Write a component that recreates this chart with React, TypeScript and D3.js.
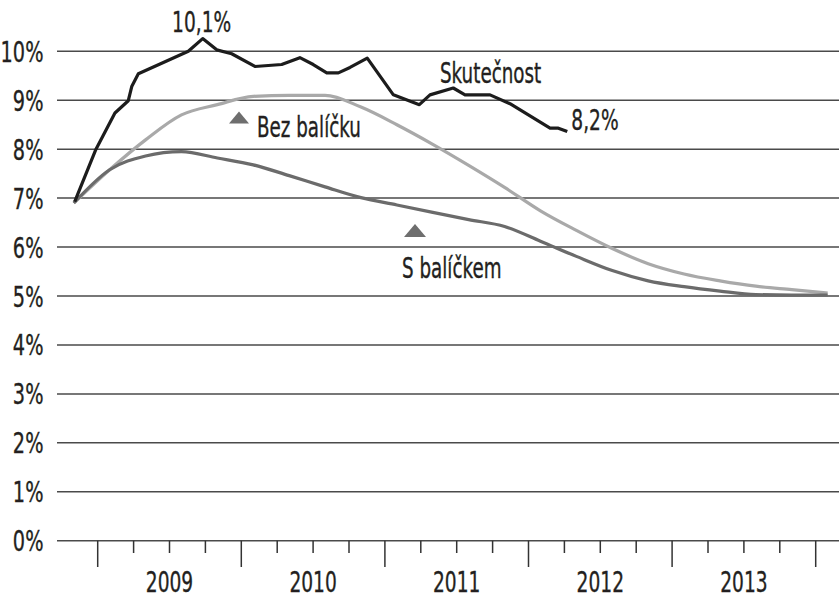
import React from "react";
import * as d3 from "d3";

// ---- data ----
const yTickValues = [0, 1, 2, 3, 4, 5, 6, 7, 8, 9, 10];
const yearLabels = ["2009", "2010", "2011", "2012", "2013"];
const quarters = [
  "2008Q4", "2009Q1", "2009Q2", "2009Q3", "2009Q4", "2010Q1", "2010Q2", "2010Q3",
  "2010Q4", "2011Q1", "2011Q2", "2011Q3", "2011Q4", "2012Q1", "2012Q2", "2012Q3",
  "2012Q4", "2013Q1", "2013Q2", "2013Q3", "2013Q4", "2014Q1",
];
const bezBalicku = [
  6.9, 7.58, 8.19, 8.7, 8.91, 9.08, 9.1, 9.1, 8.86, 8.5, 8.1, 7.67,
  7.22, 6.74, 6.34, 5.97, 5.66, 5.45, 5.31, 5.2, 5.13, 5.06,
];
const sBalickem = [
  6.9, 7.58, 7.86, 7.95, 7.82, 7.68, 7.46, 7.23, 7.01, 6.86, 6.71, 6.56,
  6.42, 6.12, 5.81, 5.52, 5.31, 5.19, 5.1, 5.03, 5.02, 5.02,
];
const actualDates = [
  2008.84, 2008.988, 2009.12, 2009.213, 2009.237, 2009.283, 2009.434, 2009.631,
  2009.731, 2009.829, 2009.933, 2010.095, 2010.281, 2010.408, 2010.501, 2010.595,
  2010.676, 2010.757, 2010.877, 2011.059, 2011.24, 2011.314, 2011.476, 2011.558,
  2011.732, 2011.871, 2012.15, 2012.208, 2012.27,
];
const actualValues = [
  6.93, 8.0, 8.74, 8.99, 9.28, 9.54, 9.74, 10.0, 10.26, 10.03, 9.95, 9.69,
  9.73, 9.87, 9.73, 9.56, 9.56, 9.67, 9.86, 9.11, 8.91, 9.11, 9.25, 9.11,
  9.11, 8.93, 8.43, 8.43, 8.36,
];
const peakLabel = "10,1%";
const lastLabel = "8,2%";
const seriesNames = ["Skutečnost", "Bez balíčku", "S balíčkem"];

// ---- layout ----
const W = 839;
const H = 598;
const FONT = "'Liberation Sans Narrow','DejaVu Sans Condensed','Liberation Sans',sans-serif";
const SX = 0.74;
const TXT = "#231f20";

const quarterToYear = (q: string) => {
  const y = +q.slice(0, 4);
  const n = +q.slice(5);
  return y + (3 * (n - 1) + 1) / 12;
};

function CText({ x, y, size, anchor = "start", children, weight = 400 }: any) {
  return (
    <text
      transform={`translate(${x},${y}) scale(${SX},1)`}
      fontFamily={FONT}
      fontSize={size}
      fontWeight={weight}
      textAnchor={anchor}
      fill={TXT}
      stroke={TXT}
      strokeWidth={0.35}
    >
      {children}
    </text>
  );
}

export default function App() {
  const x = d3.scaleLinear().domain([2009, 2014]).range([97.7, 815.7]);
  const y = d3.scaleLinear().domain([0, 10]).range([540.7, 51.3]);
  const gridX0 = 57;
  const gridX1 = W;

  const qYears = quarters.map(quarterToYear);
  const projLine = d3
    .line<number>()
    .x((_, i) => x(qYears[i]))
    .y((d) => y(d))
    .curve(d3.curveMonotoneX);
  const actualLine = d3
    .line<number>()
    .x((_, i) => x(actualDates[i]))
    .y((d) => y(d));

  const ticks = d3.range(0, 21).map((i) => 2009 + i * 0.25);

  const tri = (cx: number, cy: number, w: number, h: number) =>
    `M${cx - w / 2},${cy + h / 2}L${cx},${cy - h / 2}L${cx + w / 2},${cy + h / 2}Z`;

  const lastI = actualValues.length - 1;
  const peakI = actualValues.indexOf(d3.max(actualValues) as number);

  return (
    <svg
      width={W}
      height={H}
      style={{ position: "absolute", left: 0, top: 0, background: "#fff" }}
    >
      {/* gridlines */}
      {yTickValues.map((v) => (
        <line
          key={v}
          x1={gridX0}
          x2={gridX1}
          y1={y(v)}
          y2={y(v)}
          stroke="#4a4a4a"
          strokeWidth={1.5}
        />
      ))}
      {/* y labels */}
      {yTickValues.map((v) => (
        <CText key={v} x={43.5} y={y(v) + 10.5} size={29} anchor="end">
          {v}%
        </CText>
      ))}
      {/* x ticks */}
      {ticks.map((t, i) => (
        <line
          key={i}
          x1={x(t)}
          x2={x(t)}
          y1={y(0)}
          y2={i % 4 === 0 ? 567 : 553}
          stroke="#333"
          strokeWidth={1.5}
        />
      ))}
      {yearLabels.map((l) => (
        <CText key={l} x={x(+l + 0.5)} y={592} size={28} anchor="middle">
          {l}
        </CText>
      ))}

      {/* series */}
      <path d={projLine(bezBalicku) || ""} fill="none" stroke="#a9a9a9" strokeWidth={3.2} strokeLinejoin="round" />
      <path d={projLine(sBalickem) || ""} fill="none" stroke="#6b6b6b" strokeWidth={3.2} strokeLinejoin="round" />
      <path d={actualLine(actualValues) || ""} fill="none" stroke="#1c1c1c" strokeWidth={3.2} strokeLinejoin="round" />

      {/* annotations */}
      <CText x={x(actualDates[peakI]) - 1} y={y(actualValues[peakI]) - 7} size={28} anchor="middle">
        {peakLabel}
      </CText>
      <CText x={x(actualDates[lastI]) + 4} y={y(actualValues[lastI]) - 2} size={28}>
        {lastLabel}
      </CText>
      <CText x={440} y={83} size={27.5}>
        {seriesNames[0]}
      </CText>
      <path d={tri(239, 117.5, 20, 12)} fill="#6e6e6e" />
      <CText x={257} y={137} size={27.5}>
        {seriesNames[1]}
      </CText>
      <path d={tri(415, 230.5, 22, 13)} fill="#6e6e6e" />
      <CText x={402} y={278} size={27.5}>
        {seriesNames[2]}
      </CText>
    </svg>
  );
}
